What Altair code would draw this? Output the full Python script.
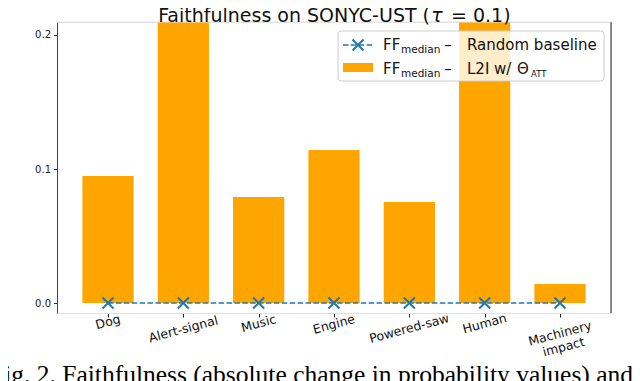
import math
import altair as alt
import pandas as pd

# ---------------- data ----------------
categories = ["Dog", "Alert-signal", "Music", "Engine", "Powered-saw", "Human", "Machinery\nimpact"]
ff_l2i = [0.0948, 0.26, 0.0791, 0.1142, 0.0754, 0.25, 0.0142]
ff_random = [0.0, 0.0, 0.0, 0.0, 0.0, 0.0, 0.0]
y_ticks = [0.0, 0.1, 0.2]

# ---------------- layout ----------------
W, H = 554, 291
Y_MIN, Y_MAX = -0.00746, 0.2097
X_MIN, X_MAX = -0.677, 6.677
BAR_HALF = 0.34
LABEL_FS = 12.5
BLUE = "#1f77b4"
ORANGE = "#ffa500"
FONT = "DejaVu Sans"

px_per_unit = H / (Y_MAX - Y_MIN)


def label_drop(label):
    lines = label.split("\n")
    w = max(len(l) for l in lines) * 0.5 * LABEL_FS
    h = len(lines) * LABEL_FS * 1.1
    a = math.radians(15)
    return (w * math.sin(a) + h * math.cos(a)) / 2


df = pd.DataFrame({"idx": list(range(len(categories))), "label": categories,
                   "l2i": ff_l2i, "rnd": ff_random})
df["lab_val"] = [Y_MIN - label_drop(l) / px_per_unit for l in categories]

xscale = alt.Scale(domain=[X_MIN, X_MAX], nice=False, zero=False)
yscale = alt.Scale(domain=[Y_MIN, Y_MAX], nice=False, zero=False)

base = alt.Chart(df)

xaxis = alt.Axis(values=list(range(len(categories))), labels=False, title=None, grid=False,
                 ticks=True, tickSize=4, tickColor="#222", domainColor="#e0e0e0", domainWidth=1.2)
yaxis = alt.Axis(values=y_ticks, format=".1f", title=None, grid=False, tickSize=3.5,
                 tickColor="#333", domainColor="#444", labelFontSize=10, labelPadding=3,
                 labelColor="#222", labelFont=FONT)

bars = base.mark_bar(color=ORANGE, clip=True).transform_calculate(
    x0=f"datum.idx - {BAR_HALF}", x1=f"datum.idx + {BAR_HALF}", zero="0"
).encode(
    x=alt.X("x0:Q", scale=xscale, axis=xaxis),
    x2="x1:Q",
    y=alt.Y("l2i:Q", scale=yscale, axis=yaxis),
    y2="zero:Q",
)

line = base.mark_line(color=BLUE, strokeWidth=1.5, strokeDash=[5.5, 2.4]).encode(
    x=alt.X("idx:Q", scale=xscale), y=alt.Y("rnd:Q", scale=yscale))

XSHAPE = "M-1,-1L1,1M-1,1L1,-1"
points = base.mark_point(shape=XSHAPE, filled=False, size=121, strokeWidth=2,
                         color=BLUE, opacity=1).encode(
    x=alt.X("idx:Q", scale=xscale), y=alt.Y("rnd:Q", scale=yscale))

labels = base.mark_text(angle=345, align="center", baseline="middle", fontSize=LABEL_FS,
                        font=FONT, lineBreak="\n", lineHeight=14, color="#111").encode(
    x=alt.X("idx:Q", scale=xscale), y=alt.Y("lab_val:Q", scale=yscale), text="label:N")

one = alt.Chart(pd.DataFrame({"a": [0]}))

right_spine = one.mark_rule(color="#222", strokeWidth=1).encode(
    x=alt.value(W), y=alt.value(0), y2=alt.value(H))
top_spine = one.mark_rule(color="#e6e6e6", strokeWidth=1.2).encode(
    x=alt.value(0), x2=alt.value(W), y=alt.value(0))


def txt(text, x, y, size, align="left", style="normal", font=FONT, color="#111"):
    return one.mark_text(text=text, align=align, baseline="alphabetic", fontSize=size,
                         font=font, fontStyle=style, color=color).encode(
        x=alt.value(x), y=alt.value(y))


# title (split so that tau can be italic)
TFS = 19
title_layers = [
    txt("Faithfulness on SONYC-UST (", 373, 0, TFS, align="right"),
    txt("τ", 380, 0, TFS, align="center", style="italic"),
    txt("= 0.1)", 394, 0, TFS, align="left"),
]

# legend
LFS = 15
leg_box = one.mark_rect(fill="white", fillOpacity=0.8, stroke="#cccccc", strokeWidth=1,
                        cornerRadius=3).encode(
    x=alt.value(281), x2=alt.value(547), y=alt.value(9), y2=alt.value(59))
leg_line = one.mark_rule(color=BLUE, strokeWidth=1.5, strokeDash=[5.5, 2.4]).encode(
    x=alt.value(286), x2=alt.value(316), y=alt.value(23))
leg_pt = one.mark_point(shape=XSHAPE, filled=False, size=121, strokeWidth=2,
                        color=BLUE, opacity=1).encode(x=alt.value(301), y=alt.value(23))
leg_rect = one.mark_rect(color=ORANGE).encode(
    x=alt.value(286), x2=alt.value(316), y=alt.value(41), y2=alt.value(50))

legend_layers = [leg_box, leg_line, leg_pt, leg_rect]
for yb in (27.5, 52):
    legend_layers += [
        txt("FF", 326, yb, LFS),
        txt("median", 344, yb + 3, 10.5),
        txt("–", 391, yb, LFS, align="center"),
    ]
legend_layers += [
    txt("Random baseline", 410, 27.5, LFS),
    txt("L2I w/", 410, 52, LFS),
    txt("Θ", 460, 52, LFS),
    txt("ATT", 474, 55, 8.5),
]

caption = txt("Fig. 2. Faithfulness (absolute change in probability values) and the", -67, 361, 25.5,
              font="Liberation Serif", color="#000")

chart = alt.layer(
    bars, line, points, labels, right_spine, top_spine, *title_layers, *legend_layers, caption
).properties(
    width=W, height=H,
    padding={"left": 49, "top": 14, "right": 21, "bottom": 68},
    autosize=alt.AutoSizeParams(type="none"),
).configure_view(stroke=None).configure(background="white")

chart.save("out.html", embed_options={"renderer": "svg", "actions": False})
